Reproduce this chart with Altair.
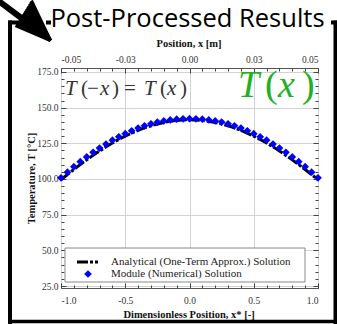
import altair as alt
import pandas as pd

# ---------------- data ----------------
x_line = [-1.0, -0.9, -0.8, -0.7, -0.6, -0.5, -0.4, -0.3, -0.2, -0.1, 0.0,
          0.1, 0.2, 0.3, 0.4, 0.5, 0.6, 0.7, 0.8, 0.9, 1.0]
T_line = [99.5, 106.7, 113.4, 119.6, 125.2, 130.0, 134.1, 137.3, 139.6, 141.0, 141.5,
          141.0, 139.6, 137.3, 134.1, 130.0, 125.2, 119.6, 113.4, 106.7, 99.5]

x_pts = [-1.0, -0.95, -0.9, -0.85, -0.8, -0.75, -0.7, -0.65, -0.6, -0.55, -0.5,
         -0.45, -0.4, -0.35, -0.3, -0.25, -0.2, -0.15, -0.1, -0.05, 0.0,
         0.05, 0.1, 0.15, 0.2, 0.25, 0.3, 0.35, 0.4, 0.45, 0.5,
         0.55, 0.6, 0.65, 0.7, 0.75, 0.8, 0.85, 0.9, 0.95, 1.0]
T_pts = [100.8, 104.8, 108.6, 112.1, 115.5, 118.7, 121.7, 124.5, 127.2, 129.6, 131.8,
         133.8, 135.7, 137.3, 138.7, 139.9, 140.7, 141.4, 141.9, 142.2, 142.3,
         142.2, 141.9, 141.4, 140.7, 139.9, 138.7, 137.3, 135.7, 133.8, 131.8,
         129.6, 127.2, 124.5, 121.7, 118.7, 115.5, 112.1, 108.6, 104.8, 100.8]

x_major = [-1.0, -0.5, 0.0, 0.5, 1.0]
x_minor = [-1.0, -0.9, -0.8, -0.7, -0.6, -0.5, -0.4, -0.3, -0.2, -0.1, 0.0,
           0.1, 0.2, 0.3, 0.4, 0.5, 0.6, 0.7, 0.8, 0.9, 1.0]
y_major = [25, 50, 75, 100, 125, 150, 175]
y_minor = [25, 30, 35, 40, 45, 50, 55, 60, 65, 70, 75, 80, 85, 90, 95, 100,
           105, 110, 115, 120, 125, 130, 135, 140, 145, 150, 155, 160, 165, 170, 175]
top_major = [-0.05, -0.025, 0.0, 0.025, 0.05]
top_labels = ["-0.05", "-0.03", "0.00", "0.03", "0.05"]

series_names = ["Analytical (One-Term Approx.) Solution", "Module (Numerical) Solution"]
chart_title = "Post-Processed Results"
x_title = "Dimensionless Position, x* [-]"
top_title = "Position, x [m]"
y_title = "Temperature, T [°C]"

# ---------------- layout ----------------
W, H = 257, 220
SERIF = "Liberation Serif"
LINE_DASH = [11, 2, 3, 2]

xs = alt.Scale(domain=[-1, 1], nice=False, zero=False)
ys = alt.Scale(domain=[23.6, 177.8], nice=False, zero=False)
ts = alt.Scale(domain=[-0.05, 0.05], nice=False, zero=False)

line_df = pd.DataFrame({"x": x_line, "T": T_line})
pts_df = pd.DataFrame({"x": x_pts, "T": T_pts})
dummy = pd.DataFrame({"a": [0.0], "t": [100.0], "p": [0.0]})

minus_fix = "replace(format(datum.value, '.1f'), '\u2212', '-')"
top_expr = "'" + top_labels[-1] + "'"
for v, lab in reversed(list(zip(top_major[:-1], top_labels[:-1]))):
    top_expr = f"datum.value < {v + 0.01} ? '{lab}' : " + top_expr

x_axis_main = alt.Axis(
    orient="bottom", values=x_major, labelExpr=minus_fix, ticks=False, tickSize=0,
    domain=False, grid=True, gridColor="#d2d2d2", gridWidth=1,
    labelFont=SERIF, labelFontSize=9.5, labelColor="#333", labelPadding=7,
    title=x_title, titleFont=SERIF, titleFontSize=10.5, titleFontWeight="bold",
    titleColor="#111", titleX=127.5, titleY=26, titleBaseline="middle", titleAlign="center")
y_axis_main = alt.Axis(
    orient="left", values=y_major, format=".1f", ticks=False, tickSize=0,
    domain=False, grid=True, gridColor="#d2d2d2", gridWidth=1,
    labelFont=SERIF, labelFontSize=9.5, labelColor="#333", labelPadding=3,
    title=y_title, titleFont=SERIF, titleFontSize=10.5, titleFontWeight="bold",
    titleColor="#111", titleX=-30, titleY=110, titleAngle=270,
    titleBaseline="middle", titleAlign="center")
top_axis = alt.Axis(
    orient="top", values=top_major, labelExpr=top_expr, ticks=False, tickSize=0,
    domain=False, grid=False,
    labelFont=SERIF, labelFontSize=9.5, labelColor="#333", labelPadding=4,
    title=top_title, titleFont=SERIF, titleFontSize=10.5, titleFontWeight="bold",
    titleColor="#111", titleX=127.5, titleY=-25, titleBaseline="middle", titleAlign="center")


def tick_axis(orient, offset, values, size):
    return alt.Axis(orient=orient, offset=offset, values=values, tickSize=size,
                    ticks=True, labels=False, domain=False, grid=False, title="",
                    tickColor="#444", tickWidth=1)


X = alt.X("x:Q", scale=xs, axis=x_axis_main)
Y = alt.Y("T:Q", scale=ys, axis=y_axis_main)

line = alt.Chart(line_df).mark_line(
    color="black", strokeWidth=3, strokeDash=LINE_DASH, interpolate="monotone"
).encode(x=X, y=Y)
points = alt.Chart(pts_df).mark_point(
    shape="diamond", filled=True, size=60, color="#0000ff", opacity=1
).encode(x=X, y=Y)


def rule(x1, y1, x2, y2, w, color="black", dash=None):
    kw = dict(strokeWidth=w, color=color, strokeCap="butt")
    if dash:
        kw["strokeDash"] = dash
    return alt.Chart(dummy).mark_rule(**kw).encode(
        x=alt.value(x1), y=alt.value(y1), x2=alt.value(x2), y2=alt.value(y2))


def text(s, x, y, size, color="#333", font=SERIF, style="normal", align="left",
         baseline="alphabetic", weight="normal"):
    return alt.Chart(dummy).mark_text(
        font=font, fontSize=size, color=color, fontStyle=style, align=align,
        baseline=baseline, fontWeight=weight
    ).encode(x=alt.value(x), y=alt.value(y), text=alt.value(s))


# equation annotations
eq_black = [("T", 4, "italic"), ("(", 20, "normal"), ("\u2212", 26, "normal"),
            ("x", 39, "italic"), (")", 51, "normal"), ("=", 63, "normal"),
            ("T", 83, "italic"), ("(", 99, "normal"), ("x", 106, "italic"),
            (")", 119, "normal")]
eq_green = [("T", 177, "italic"), ("(", 204, "normal"), ("x", 217, "italic"),
            (")", 241, "normal")]
eq_layers = [text(s, x, 27, 21, color="#333", style=st) for s, x, st in eq_black]
eq_layers += [text(s, x, 29, 38, color="#22b022", style=st) for s, x, st in eq_green]

# legend
legend_box = alt.Chart(dummy).mark_rect(fill="white", stroke="#888", strokeWidth=1).encode(
    x=alt.value(4), x2=alt.value(244), y=alt.value(180), y2=alt.value(214))
legend_line = rule(16, 194, 37, 194, 3, dash=LINE_DASH)
legend_pt = alt.Chart(dummy).mark_point(
    shape="diamond", filled=True, size=60, color="#0000ff", opacity=1
).encode(x=alt.value(27), y=alt.value(206))
legend_t1 = text(series_names[0], 50, 194, 11, color="#222", baseline="middle")
legend_t2 = text(series_names[1], 50, 206, 11, color="#222", baseline="middle")

# callout frame, title and arrow (pixel offsets from the plot's top-left corner)
title = text(chart_title, 126.5, -41, 25.5, color="black", font="Open Sans", align="center")
frame = [
    rule(-53, -45.5, -41, -45.5, 4),
    rule(-15, -45.5, -10, -45.5, 4),
    rule(270, -45.5, 276, -45.5, 4),
    rule(-51, -47.5, -51, 256, 4),
    rule(274.5, -47.5, 274.5, 256, 4),
    rule(-53, 253.5, 276, 253.5, 3.5),
]
shaft = rule(-65, -69, -37, -48, 6)
# arrow head: a fan of thin rules filling the triangle A-B-C
A = (-29.5, -67.5)
B = (-45.5, -42.5)
C = (-10.5, -27.5)
N_FAN = 16
head = []
for i in range(N_FAN):
    f = i / (N_FAN - 1)
    px = A[0] + (B[0] - A[0]) * f
    py = A[1] + (B[1] - A[1]) * f
    head.append(rule(C[0], C[1], px, py, 3))

main = alt.layer(
    line, points, *eq_layers, legend_box, legend_line, legend_pt, legend_t1, legend_t2,
    title, *frame, shaft, *head
)


def tick_layer(x_axis, y_axis=None, x_field="a", x_scale=xs):
    enc = dict(x=alt.X(f"{x_field}:Q", scale=x_scale, axis=x_axis))
    if y_axis is not None:
        enc["y"] = alt.Y("t:Q", scale=ys, axis=y_axis)
    return alt.Chart(dummy).mark_point(opacity=0).encode(**enc)


L2 = tick_layer(top_axis, tick_axis("left", -W, y_major, 5), x_field="p", x_scale=ts)
L3 = tick_layer(tick_axis("top", -H, x_major, 5), tick_axis("right", -W, y_major, 5))
L4 = tick_layer(tick_axis("bottom", -H, x_major, 5), tick_axis("left", -W, y_minor, 3))
L5 = tick_layer(tick_axis("top", -H, x_minor, 3), tick_axis("right", -W, y_minor, 3))
L6 = tick_layer(tick_axis("bottom", -H, x_minor, 3))

chart = alt.layer(main, L2, L3, L4, L5, L6).resolve_scale(
    x="independent", y="independent"
).properties(
    width=W, height=H, autosize="none",
    padding={"left": 61, "top": 68, "right": 19, "bottom": 36},
    background="white",
).configure_view(stroke="#555", strokeWidth=1)

chart.save("out.html", embed_options={"renderer": "svg", "actions": False})
